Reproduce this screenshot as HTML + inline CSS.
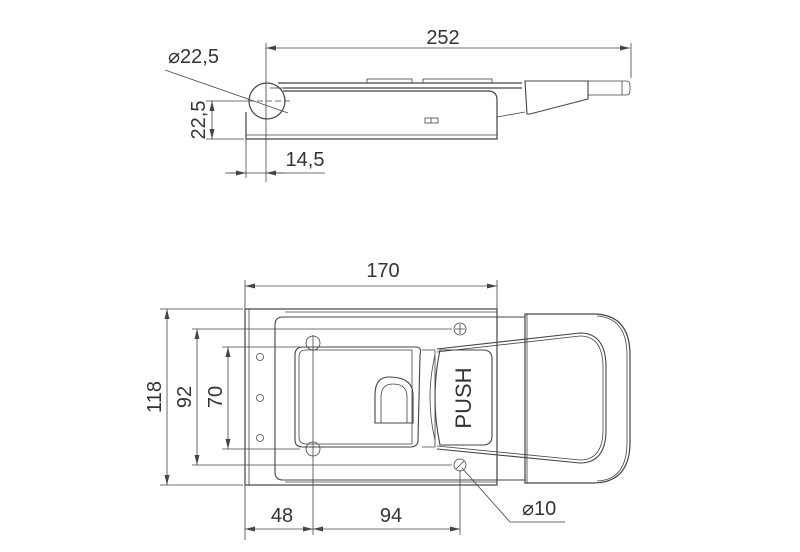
<!DOCTYPE html>
<html><head><style>
html,body{margin:0;padding:0;background:#fff;}
svg{display:block;}
text{font-family:"Liberation Sans",sans-serif;fill:#333;}
</style></head><body>
<svg width="800" height="552" viewBox="0 0 800 552" xmlns="http://www.w3.org/2000/svg">
<defs>
<marker id="a" viewBox="0 0 10 6" refX="10" refY="3" markerWidth="10" markerHeight="6" orient="auto-start-reverse" markerUnits="userSpaceOnUse"><path d="M0,0.5 L10,3 L0,5.5" fill="#444" stroke="none"/></marker>
</defs>
<g fill="none" stroke="#444" stroke-width="0.8">
<!-- TOP VIEW -->
<line x1="266" y1="43" x2="266" y2="182"/>
<line x1="631" y1="43" x2="631" y2="78"/>
<line x1="266" y1="48" x2="630" y2="48" marker-start="url(#a)" marker-end="url(#a)"/>
<circle cx="267" cy="101" r="18" stroke-width="1.2"/>
<line x1="248" y1="101" x2="290" y2="101" stroke-dasharray="6,3"/>
<line x1="165" y1="70" x2="288" y2="113"/>
<path d="M278,83 L522,83 M283,88 L522,88" stroke-width="1.2"/>
<path d="M283,88 L270,88" />
<path d="M246,112 L246,139 L497,139 L497,100 Q497,91 488,91 L283,91" stroke-width="1.2"/>
<line x1="246" y1="135" x2="497" y2="135"/>
<rect x="367" y="79" width="45" height="4"/>
<rect x="423" y="79" width="69" height="4"/>
<rect x="425" y="118" width="13" height="5"/>
<line x1="431" y1="118" x2="431" y2="123"/>
<path d="M497,117 L525,112"/>
<path d="M525,81 L588,81 L588,95 L588,99 L530,114 L527,114 Z" stroke-width="1.1"/>
<path d="M588,81 L626,81 Q630,81 630,85 L630,91 Q630,95 626,95 L588,95"/>
<line x1="622" y1="81" x2="622" y2="95"/>
<line x1="212" y1="101" x2="212" y2="139" marker-start="url(#a)" marker-end="url(#a)"/>
<line x1="206" y1="101" x2="248" y2="101"/>
<line x1="206" y1="139" x2="244" y2="139"/>
<line x1="246" y1="139" x2="246" y2="178"/>
<line x1="225" y1="173" x2="325" y2="173"/>
<line x1="228" y1="173" x2="246" y2="173" marker-end="url(#a)"/>
<line x1="285" y1="173" x2="266" y2="173" marker-end="url(#a)"/>

<!-- BOTTOM VIEW -->
<line x1="245" y1="280" x2="245" y2="540"/>
<line x1="497" y1="280" x2="497" y2="309"/>
<line x1="245" y1="286" x2="497" y2="286" marker-start="url(#a)" marker-end="url(#a)"/>
<rect x="245" y="309" width="252" height="176" stroke-width="1.2"/>
<line x1="249" y1="309" x2="249" y2="485"/>
<line x1="285" y1="312" x2="497" y2="312"/>
<line x1="285" y1="482" x2="497" y2="482"/>
<path d="M525,317 L283,317 Q275,317 275,325 L275,472 Q275,480 283,480 L525,480" stroke-width="1.1"/>
<path d="M525,314 L593,314 Q630,314 630,355 L630,442 Q630,483 593,483 L525,483 Z" stroke-width="1.2"/>
<path d="M597,316 Q627,318 627,355 L627,442 Q627,480 597,481"/>
<line x1="527" y1="314" x2="527" y2="483"/>
<path d="M437,349 L580,333 Q605,333 606,365 L606,432 Q605,463 580,463 L437,449" stroke-width="1.1"/>
<path d="M437,352 L580,336 Q602,336 603,365 L603,432 Q602,460 580,460 L437,446"/>
<circle cx="260" cy="357" r="3.5"/>
<circle cx="260" cy="398" r="3.5"/>
<circle cx="260" cy="438" r="3.5"/>
<circle cx="313" cy="343" r="7"/>
<circle cx="313" cy="449" r="7"/>
<circle cx="460" cy="329" r="6"/>
<circle cx="460" cy="465" r="6"/>
<path d="M455,329 L465,329 M460,324 L460,334"/>
<path d="M456,469 L464,461"/>
<path d="M295,355 Q295,347 303,347 L416,347 Q422,347 420,355 L418,440 Q418,447 410,447 L303,447 Q295,447 295,440 Z" stroke-width="1.1"/>
<path d="M299,357 Q299,350 306,350 L412,350 L412,444 L306,444 Q299,444 299,437 Z"/>
<path d="M422,350 L435,350 L435,447 L422,447"/>
<path d="M375,423 L375,395 Q375,377 389,377 Q413,377 413,395 L413,423 Z" stroke-width="1.1"/>
<path d="M381,423 L381,397 Q381,384 393,384 Q407,384 407,397 L407,423"/>
<path d="M440,350 L483,350 Q492,350 492,359 L492,436 Q492,445 483,445 L440,445 Q430,398 440,350 Z" stroke-width="1.1"/>
<path d="M435,355 Q425,398 435,440"/>
<!-- vertical dims -->
<line x1="160" y1="309" x2="243" y2="309"/>
<line x1="160" y1="485" x2="243" y2="485"/>
<line x1="167" y1="309" x2="167" y2="485" marker-start="url(#a)" marker-end="url(#a)"/>
<line x1="192" y1="329" x2="452" y2="329"/>
<line x1="192" y1="465" x2="452" y2="465"/>
<line x1="197" y1="329" x2="197" y2="465" marker-start="url(#a)" marker-end="url(#a)"/>
<line x1="222" y1="347" x2="300" y2="347"/>
<line x1="222" y1="449" x2="300" y2="449"/>
<line x1="228" y1="347" x2="228" y2="449" marker-start="url(#a)" marker-end="url(#a)"/>
<line x1="313" y1="335" x2="313" y2="535"/>
<line x1="460" y1="470" x2="460" y2="535"/>
<line x1="245" y1="529" x2="313" y2="529" marker-start="url(#a)" marker-end="url(#a)"/>
<line x1="313" y1="529" x2="460" y2="529" marker-start="url(#a)" marker-end="url(#a)"/>
<path d="M462,468 L510,522 L565,522"/>
</g>
<g font-size="20">
<text x="443" y="44" text-anchor="middle">252</text>
<text x="168" y="63">⌀22,5</text>
<text x="305" y="166" text-anchor="middle">14,5</text>
<text transform="translate(205,120) rotate(-90)" text-anchor="middle">22,5</text>
<text x="383" y="277" text-anchor="middle">170</text>
<text transform="translate(161,397) rotate(-90)" text-anchor="middle">118</text>
<text transform="translate(191,397) rotate(-90)" text-anchor="middle">92</text>
<text transform="translate(222,397) rotate(-90)" text-anchor="middle">70</text>
<text x="282" y="522" text-anchor="middle">48</text>
<text x="391" y="522" text-anchor="middle">94</text>
<text x="522" y="515">⌀10</text>
<text transform="translate(471,398) rotate(-90)" text-anchor="middle" font-size="22" fill="#444">PUSH</text>
</g>
</svg>
</body></html>
